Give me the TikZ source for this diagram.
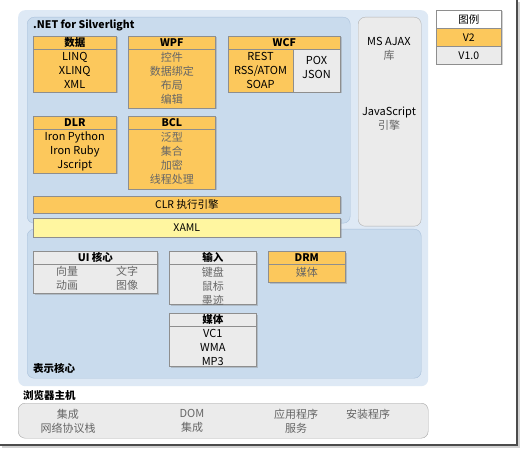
\documentclass[tikz,border=0pt]{standalone}
\usepackage{fontspec}
\setmainfont{Noto Sans CJK SC}
\usepackage{tikz}
\usetikzlibrary{positioning,shadows,calc}

\definecolor{vtwo}{HTML}{FCC85C}
\definecolor{vone}{HTML}{EBEBEB}
\definecolor{paleblue}{HTML}{DEE9F5}
\definecolor{midblue}{HTML}{C9DBED}
\definecolor{blueline}{HTML}{A9C0DA}
\definecolor{xamlyellow}{HTML}{FFF6A0}
\definecolor{boxline}{HTML}{8E8E8E}
\definecolor{itemgray}{HTML}{666666}

\begin{document}
\begin{tikzpicture}[x=1pt,y=-1pt,
    box/.style={draw=boxline,line width=0.6pt,anchor=north west,inner sep=0pt,
      drop shadow={shadow xshift=1.2pt,shadow yshift=-1.2pt,opacity=0.35}},
    head/.style={font=\fontsize{10.5}{12}\selectfont\bfseries,inner sep=0pt},
    plain/.style={font=\fontsize{10.5}{12}\selectfont,inner sep=0pt},
    items/.style={anchor=north,align=center,inner sep=0pt,font=\fontsize{11}{14}\selectfont},
    sepline/.style={draw=boxline,line width=0.5pt},
    area/.style={rounded corners=7pt,anchor=north west,inner sep=0pt},
    lbl/.style={anchor=west,inner sep=0pt,font=\fontsize{10.5}{12}\selectfont\bfseries}
  ]
    \useasboundingbox (0,0) rectangle (522,449);
    \fill[white] (0,0) rectangle (522,449);
    % screenshot frame
    \fill[gray!35] (518,2) rectangle (520,448);
    \fill[gray!35] (2,446) rectangle (520,448);
    \fill[black!70] (516,0) rectangle (518,446);
    \fill[black!70] (0,444) rectangle (518,446);

    % big areas
    \node[area,fill=paleblue,minimum width=410,minimum height=376] (outer) at (18,10) {};
    \node[area,fill=midblue,draw=blueline,minimum width=323,minimum height=206] (net) at (27,17) {};
    \node[area,fill=vone,draw=boxline!70,minimum width=63,minimum height=209] (ajax) at (358,17) {};
    \node[area,fill=midblue,draw=blueline,minimum width=394,minimum height=149] (pres) at (27,229) {};
    \node[lbl] (netlbl) at (33,25) {.NET for Silverlight};
    \node[lbl] (preslbl) at (33,368) {表示核心};

    \node[items] (ajaxtop) at (389,37) {MS AJAX\\{\color{itemgray}库}};
    \node[items] (ajaxjs) at (389,107) {JavaScript\\{\color{itemgray}引擎}};

    % boxes with a title row
    \foreach \nm/\bx/\by/\bw/\bh/\fc/\tc/\ttl/\txt in {
      data/33/36/83/56/vtwo/black/数据/{LINQ\\XLINQ\\XML},
      wpf/128/36/87/72/vtwo/itemgray/WPF/{控件\\数据绑定\\布局\\编辑},
      dlr/33/116/83/57/vtwo/black/DLR/{Iron Python\\Iron Ruby\\Jscript},
      bcl/128/116/87/73/vtwo/itemgray/BCL/{泛型\\集合\\加密\\线程处理},
      input/169/251/87/53/vone/itemgray/输入/{键盘\\鼠标\\墨迹},
      drm/268/251/77/31/vtwo/itemgray/DRM/{媒体},
      media/169/313/87/53/vone/black/媒体/{VC1\\WMA\\MP3}}{
      \node[box,fill=\fc,minimum width=\bw,minimum height=\bh] (\nm) at (\bx,\by) {};
      \node[head] at ([yshift=-6.5pt]\nm.north) {\ttl};
      \draw[sepline] ([yshift=-13pt]\nm.north west) -- ([yshift=-13pt]\nm.north east);
      \node[items,text=\tc] at ([yshift=-16pt]\nm.north) {\txt};
    }

    % WCF
    \node[box,fill=vtwo,minimum width=112,minimum height=56] (wcf) at (228,36) {};
    \fill[vone] (293,49) rectangle (wcf.south east);
    \draw[boxline,line width=0.6pt] (wcf.north west) rectangle (wcf.south east);
    \draw[sepline] (228,49) -- (340,49);
    \draw[sepline] (293,49) -- (293,92);
    \node[head] at ([yshift=-6.5pt]wcf.north) {WCF};
    \node[items] (wcfl) at (260.5,52) {REST\\RSS/ATOM\\SOAP};
    \node[items] (wcfr) at (316.5,56) {POX\\JSON};

    % UI core
    \node[box,fill=vone,minimum width=124,minimum height=42] (ui) at (33,251) {};
    \node[head] at ([yshift=-6.5pt]ui.north) {UI 核心};
    \draw[sepline] ([yshift=-13pt]ui.north west) -- ([yshift=-13pt]ui.north east);
    \node[items,text=itemgray] (uia) at (67,266) {向量\\动画};
    \node[items,text=itemgray] (uib) at (127,266) {文字\\图像};

    % CLR and XAML bars
    \node[box,fill=vtwo,minimum width=307,minimum height=17] (clr) at (33,196) {};
    \node[plain] at (clr.center) {CLR 执行引擎};
    \node[box,fill=xamlyellow,minimum width=307,minimum height=19] (xaml) at (33,218) {};
    \node[plain] at (xaml.center) {XAML};

    % browser host
    \node[lbl] (hostlbl) at (23,396) {浏览器主机};
    \node[area,fill=vone,draw=boxline!80,minimum width=410,minimum height=35] (host) at (18,403) {};
    \foreach \hx/\txt in {68/{集成\\网络协议栈},192/{DOM\\集成},296/{应用程序\\服务},368/{安装程序}}{
      \node[items,text=itemgray] at (\hx,409) {\txt};
    }

    % legend
    \node[box,fill=white,minimum width=65,minimum height=18] (leg) at (436,10) {};
    \node[plain] at (leg.center) {图例};
    \node[box,fill=vtwo,minimum width=65,minimum height=18] (legvtwo) at (436,28) {};
    \node[plain] at (legvtwo.center) {V2};
    \node[box,fill=vone,minimum width=65,minimum height=18] (legvone) at (436,46) {};
    \node[plain] at (legvone.center) {V1.0};
\end{tikzpicture}
\end{document}
